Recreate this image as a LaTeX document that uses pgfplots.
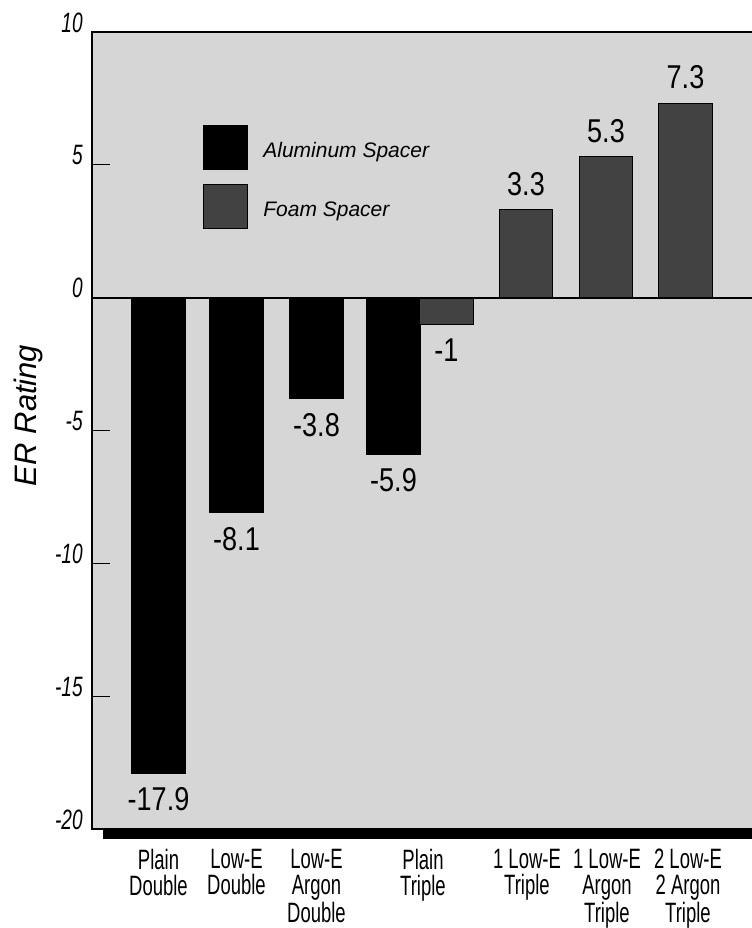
\documentclass[border=0pt]{standalone}
\usepackage{pgfplots}
\pgfplotsset{compat=1.18}
\usepackage{fontspec}
\setmainfont{Liberation Sans}
% narrow cuts of the same face for ticks, categories and values
\newfontfamily\catfont{Liberation Sans}[FakeStretch=0.66]
\newfontfamily\tickfont{Liberation Sans}[FakeStretch=0.68]
\newfontfamily\valfont{Liberation Sans}[FakeStretch=0.82]

\definecolor{plotbg}{gray}{0.84}
\definecolor{foam}{gray}{0.26}

\pgfplotsset{
  sq legend/.style={
    legend image code/.code={\fill[##1] (0pt,-9pt) rectangle (22pt,13pt);}
  }
}

\begin{document}
\begin{tikzpicture}
\begin{axis}[
  scale only axis,
  width=335pt, height=398.5pt,
  xmin=0, xmax=670, ymin=-20, ymax=10,
  axis background/.style={fill=plotbg},
  axis line style={line width=0.6pt},
  clip=false,
  ybar, bar width=26.75pt, bar shift=0pt,
  tick align=inside,
  ytick pos=left,
  major tick length=9pt,
  ytick={-20,-15,-10,-5,0,5,10},
  yticklabels={-20,-15,-10,-5,0,5,10},
  ytick style={black, line width=0.6pt},
  yticklabel style={anchor=base east, inner sep=0pt, xshift=-4.5pt,
    font=\tickfont\itshape\fontsize{14}{14}\selectfont},
  xtick={66.5,144.5,224.5,331,435,515,596},
  xticklabels={{Plain\\Double},{Low-E\\Double},{Low-E\\Argon\\Double},
    {Plain\\Triple},{1 Low-E\\Triple},{1 Low-E\\Argon\\Triple},{2 Low-E\\2 Argon\\Triple}},
  xtick style={draw=none},
  xticklabel style={align=center, anchor=north, inner sep=0pt, yshift=-10pt,
    font=\catfont\fontsize{14}{12.9}\selectfont},
  ylabel={ER Rating},
  every axis y label/.style={at={(rel axis cs:0,0.519)}, xshift=-32pt,
    rotate=90, anchor=center, font=\itshape\fontsize{15.5}{15.5}\selectfont},
  nodes near coords={\pgfmathprintnumber[assume math mode=true]{\pgfplotspointmeta}},
  nodes near coords style={font=\valfont\fontsize{16.5}{16.5}\selectfont,
    inner xsep=0pt, inner ysep=7pt, text=black},
  legend style={at={(axis cs:111,6.51)}, anchor=north west, draw=none, fill=none,
    inner sep=0pt, row sep=7pt, column sep=5.5pt,
    font=\itshape\fontsize{10.5}{12}\selectfont},
  legend cell align=left,
]
\coordinate (O) at (rel axis cs:0,0);

% Aluminum spacer
\addplot[fill=black, draw=black, sq legend] coordinates
  {(66.5,-17.9) (144.5,-8.1) (224.5,-3.8) (301.5,-5.9)};
% Foam spacer
\addplot[fill=foam, draw=black, line width=0.5pt, sq legend] coordinates
  {(354.5,-1) (434,3.3) (514,5.3) (593.5,7.3)};
\legend{Aluminum Spacer, Foam Spacer}

% zero line and the heavy rule under the plot
\draw[line width=1pt] (axis cs:0,0) -- (axis cs:670,0);
\fill[black] ([yshift=-0.6pt]axis cs:11,-20) rectangle ([yshift=-5pt]axis cs:670,-20);
\end{axis}
\pgfresetboundingbox
\useasboundingbox ([shift={(-46pt,-49.5pt)}]O) rectangle ([shift={(329.5pt,414.5pt)}]O);
\end{tikzpicture}
\end{document}
